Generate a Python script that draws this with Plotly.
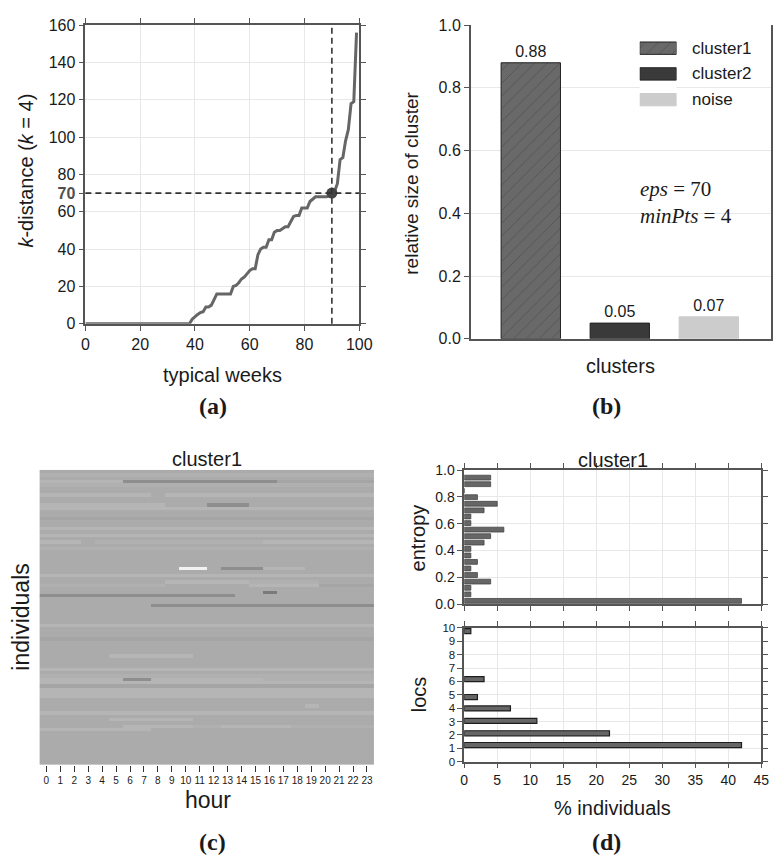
import plotly.graph_objects as go

W, H = 781, 858


def px(x):
    return x / W


def py(y):
    return 1 - y / H


FONT = "Liberation Sans, Arial, sans-serif"
SERIF = "Liberation Serif, Times New Roman, serif"
INK = "#1a1a1a"
SPINE = "#555555"
GRID = "#e8e8e8"

# ---------------- (a) k-distance plot ----------------
weeks = list(range(100))
kdist = [0, 0, 0, 0, 0, 0, 0, 0, 0, 0,
         0, 0, 0, 0, 0, 0, 0, 0, 0, 0,
         0, 0, 0, 0, 0, 0, 0, 0, 0, 0,
         0, 0, 0, 0, 0, 0, 0, 0, 0, 2.5,
         4, 5, 6, 6.5, 9, 9, 10, 13, 16, 16,
         16, 16, 16, 16, 20, 20.5, 22, 24, 25, 27,
         28.5, 29.5, 29.5, 37, 40, 41, 41, 45, 45, 49,
         50, 50, 51, 52, 52, 55, 57.5, 58, 58, 62,
         62, 62, 65.5, 67, 68, 68, 68, 68, 68, 68.5,
         70, 71, 75, 88, 89, 98, 104, 118, 119, 156]
knee_week = 90
eps = 70
min_pts = 4
kdist_ticks = [0, 20, 40, 60, 70, 80, 100, 120, 140, 160]
week_ticks = [0, 20, 40, 60, 80, 100]

# ---------------- (b) cluster sizes ----------------
cluster_names = ["cluster1", "cluster2", "noise"]
cluster_sizes = [0.88, 0.05, 0.07]
cluster_colors = ["#696969", "#3a3a3a", "#cccccc"]
cluster_edges = ["#222222", "#222222", "#cccccc"]

# ---------------- (c) heatmap of cluster1 ----------------
hours = list(range(24))
gray_levels = {"a": 171, "l": 176, "b": 181, "c": 165, "d": 142, "e": 122, "w": 242}
rows = [
    "aaaaaaaaaaaaaaaaaaaaaaaa",
    "llllllllllllllllllllllll",
    "aaaaaaaaaaaaaaaaaaaaaaaa",
    "bbbbbbdddddddddddccccccc",
    "llllllllllllllllllllllll",
    "aaaaaaaaaaaaaaaaaaaaaaaa",
    "aaaaaaaaaaaaaaaaaaaaaaaa",
    "bbbbbbbbabbbbbbbbbbbbbbb",
    "aaaaaaaaaaaaaaaaaaaaaaaa",
    "aaaaaaaaaaaaaaaaaaaaaaaa",
    "bbbbbbbbbaaadddaaaaaaaaa",
    "bbbbbbbbbbbbbbbbbbbbbbbb",
    "aaaaaaaaaaaaaaaaaaaaaaaa",
    "aaaaaaaaaaaaaaaaaaaaaaaa",
    "cccccccccccccccccccccccc",
    "aaaaaaaaaaaaaaaaaaaaaaaa",
    "aaaaaaaaaaaaaaaaaaaaaaaa",
    "bbbbbbbbbbbbbbbbbbbbbbbb",
    "aaaaaaaaaaaaaaaaaaaaaaaa",
    "bbbbbbbbbbbbbbbbbbbbbbbb",
    "aaaaaaaaaaaaaaaaaaaaaaaa",
    "bbba" "llllllllllll" "bbbbbbbb",
    "aaaaaaaaaaaaaaaaaaaaaaaa",
    "llllllllllllllllllllllll",
    "aaaaaaaaaaaaaaaaaaaaaaaa",
    "aaaaaaaaaaaaaaaaaaaaaaaa",
    "aaaaaaaaaaaaaaaaaaaaaaaa",
    "aaaaaaaaaaaaaaaaaaaaaaaa",
    "aaaaaaaaaaaaaaaaaaaaaaaa",
    "aaaaaaaaaawwadddbbbaaaaa",
    "aaaaaaaaaaaaaaaaaaaaaaaa",
    "bbbbbbbbbbbbbbbbbbbbbbbb",
    "aaaaaaaaaaaaaaaaaaaaaaaa",
    "aaaaaaaaabbbbbblllllaaaa",
    "lllllllllaaaaaabbbbbcccc",
    "aaaaaaaaaaaaaaaaaaaaaaaa",
    "aaaaaaaaaaaaaaaaeaaaaaaa",
    "ddddddddddddddaaaaaaaaaa",
    "aaaaaaaaaaaaaaaaaaaaaaaa",
    "aaaaaaaaaaaaaaaaaaaaaaaa",
    "aaaaaaaadddddddddddddddd",
    "aaaaaaaaaaaaaaaaaaaaaaaa",
    "aaaaaaaaaaaaaaaaaaaaaaaa",
    "aaaaaaaaaaaaaaaaaaaaaaaa",
    "aaaaaaaaaaaaaaaaaaaaaaaa",
    "aaaaaaaaaaaaaaaaaaaaaaaa",
    "bbbbbbbbbbbbbbbbbbbbbbbb",
    "aaaaaaaaaaaaaaaaaaaaaaaa",
    "aaaaaaaaaaaaaaaaaaaaaaaa",
    "aaaaaaaaaaaaaaaaaaaaaaaa",
    "cccccccccccccccccccccccc",
    "aaaaaaaaaaaaaaaaaaaaaaaa",
    "aaaaaaaaaaaaaaaaaaaaaaaa",
    "aaaaaaaaaaaaaaaaaaaaaaaa",
    "aaaaaaaaaaaaaaaaaaaaaaaa",
    "aaaaabbbbbbaaaaaaaaaaaaa",
    "aaaaaaaaaaaaaaaaaaaaaaaa",
    "aaaaaaaaaaaaaaaaaaaaaaaa",
    "aaaaaaaaaaaaaaaaaaaaaaaa",
    "bbbbbbbbbbbbbbbbbbbbbbbb",
    "aaaaaaaaaaaaaaaaaaaaaaaa",
    "llllllllllllllllllllllll",
    "bbbbbbddbbbbbbbbllllllll",
    "bbbbbbbbbbbbbbbbbbbbbbbb",
    "cccccccccccccccccccccccc",
    "bbbbbbbbbbbbbbbbbbbbbbbb",
    "bbbbbbbbbbbbbbbbbbbbbbbb",
    "bbbbbbbbbbbbbbbbbbbbbbbb",
    "aaaaaaaaaaaaaaaaaaaaaaaa",
    "aaaaaaaaaaaaaaaaaaaaaaaa",
    "aaaaaaaaaaaaaaaaaaabaaaa",
    "aaaaaaaaaaaaaaaaaaaaaaaa",
    "bbbbbbbbbbbbbbbbbbbbbbbb",
    "aaaaaaaaaaaaaaaaaaaaaaaa",
    "aaaaabbbbbbaaaaaaaaaaaaa",
    "aaaaaaaaaaaaaaaaaaaaaaaa",
    "aaaaaabbbbbllbbbbbllllll",
    "bbbbbbbbaaaaaaaaaaaaaaaa",
    "aaaaaaaaaaaaaaaaaaaaaaaa",
    "aaaaaaaaaaaaaaaaaaaaaaaa",
    "aaaaaaaaaaaaaaaaaaaaaaaa",
    "aaaaaaaaaaaaaaaaaaaaaaaa",
    "aaaaaaaaaaaaaaaaaaaaaaaa",
    "aaaaaaaaaaaaaaaaaaaaaaaa",
    "aaaaaaaaaaaaaaaaaaaaaaaa",
    "aaaaaaaaaaaaaaaaaaaaaaaa",
    "aaaaaaaaaaaaaaaaaaaaaaaa",
    "aaaaaaaaaaaaaaaaaaaaaaaa",
]
heat_z = [[gray_levels[ch] for ch in r] for r in rows]

# ---------------- (d) entropy / locs histograms ----------------
entropy_bins = [0.024, 0.073, 0.122, 0.168, 0.217, 0.266, 0.315, 0.363, 0.412, 0.459,
                0.507, 0.556, 0.605, 0.654, 0.700, 0.749, 0.798, 0.846, 0.895, 0.944]
entropy_pct = [42, 1, 1, 4, 2, 1, 2, 1, 1, 3, 4, 6, 1, 1, 3, 5, 2, 0, 4, 4]
locs_bins = [1.24, 2.12, 3.05, 3.98, 4.83, 6.17, 9.76]
locs_pct = [42, 22, 11, 7, 2, 3, 1]
pct_ticks = [0, 5, 10, 15, 20, 25, 30, 35, 40, 45]

fig = go.Figure()

# (a)
fig.add_trace(go.Scatter(x=weeks, y=kdist, mode="lines",
                         line=dict(color="#666666", width=3),
                         xaxis="x", yaxis="y", showlegend=False))
fig.add_trace(go.Scatter(x=[knee_week], y=[eps], mode="markers",
                         marker=dict(color="#444444", size=11),
                         xaxis="x", yaxis="y", showlegend=False, cliponaxis=False))

# (b)
for name, val, col, edge in zip(cluster_names, cluster_sizes, cluster_colors, cluster_edges):
    marker = dict(color=col, line=dict(color=edge, width=1))
    if name == "cluster1":
        marker["pattern"] = dict(shape="/", fgcolor="#3c3c3c", size=9,
                                 solidity=0.1, fillmode="overlay")
    fig.add_trace(go.Bar(x=[name], y=[val], width=0.667, marker=marker,
                         text=[f"{val:.2f}"], textposition="outside",
                         textfont=dict(size=16, color=INK, family=FONT),
                         cliponaxis=False, xaxis="x2", yaxis="y2", showlegend=False))
    # legend swatch
    fig.add_trace(go.Bar(y=[name], x=[1], orientation="h", width=0.48, marker=marker,
                         xaxis="x6", yaxis="y6", showlegend=False, hoverinfo="skip"))

# (c)
fig.add_trace(go.Heatmap(z=heat_z, x=hours, colorscale=[[0, "#000000"], [1, "#ffffff"]],
                         zmin=0, zmax=255, showscale=False, xaxis="x3", yaxis="y3"))

# (d)
fig.add_trace(go.Bar(y=entropy_bins, x=entropy_pct, orientation="h", width=0.036,
                     marker=dict(color="#666666", line=dict(color="#444444", width=0.8)),
                     xaxis="x4", yaxis="y4", showlegend=False))
fig.add_trace(go.Bar(y=locs_bins, x=locs_pct, orientation="h", width=0.38,
                     marker=dict(color="#666666", line=dict(color="#1e1e1e", width=1.2)),
                     xaxis="x5", yaxis="y5", showlegend=False))

axis_common = dict(showline=True, linecolor=SPINE, linewidth=1.5, mirror="ticks",
                   ticks="outside", ticklen=5, tickwidth=1.3, tickcolor=SPINE,
                   gridcolor=GRID, zeroline=False, tickfont=dict(size=16, color=INK))
d_tick = {**axis_common, "tickfont": dict(size=14, color=INK)}
d_tick_small = {**axis_common, "tickfont": dict(size=11.5, color=INK)}

fig.update_layout(
    width=W, height=H, margin=dict(l=0, r=0, t=0, b=0),
    paper_bgcolor="white", plot_bgcolor="white",
    font=dict(family=FONT, color=INK),
    barmode="overlay",
    xaxis=dict(domain=[px(75), px(355)], range=[0, 100], tickvals=week_ticks,
               anchor="y", **axis_common),
    yaxis=dict(domain=[py(314), py(9.3)], range=[0, 160], tickvals=kdist_ticks,
               ticktext=[("<span style='color:#505050'><b>%d</b></span>" % v) if v == eps else str(v)
                         for v in kdist_ticks],
               anchor="x", **axis_common),
    xaxis2=dict(domain=[px(469), px(776)], range=[-0.674, 2.7], type="category",
                categoryorder="array", categoryarray=cluster_names,
                showticklabels=False, ticks="", showline=True, linecolor=SPINE,
                linewidth=1.5, showgrid=False, zeroline=False, anchor="y2"),
    yaxis2=dict(domain=[py(329.3), py(9.3)], range=[0, 1], dtick=0.2, tickformat=".1f",
                anchor="x2", **axis_common),
    xaxis3=dict(domain=[px(28), px(370)], range=[-0.5, 23.5], tickvals=hours,
                ticks="outside", ticklen=6, tickcolor="#333333", tickwidth=1.2,
                tickfont=dict(size=10, color=INK), showline=False, showgrid=False,
                zeroline=False, anchor="y3"),
    yaxis3=dict(domain=[py(764), py(463)], range=[len(rows) - 0.5, -0.5],
                showticklabels=False, ticks="", showline=False, showgrid=False,
                zeroline=False, anchor="x3"),
    xaxis4=dict(domain=[px(462.3), px(766)], range=[0, 45], tickvals=pct_ticks,
                showticklabels=False, anchor="y4", **axis_common),
    yaxis4=dict(domain=[py(600), py(463.3)], range=[0, 1], dtick=0.2, tickformat=".1f",
                anchor="x4", **d_tick),
    xaxis5=dict(domain=[px(462.3), px(766)], range=[0, 45], tickvals=pct_ticks,
                anchor="y5", **d_tick),
    yaxis5=dict(domain=[py(760.7), py(624.3)], range=[0, 10], dtick=1,
                anchor="x5", **d_tick_small),
    xaxis6=dict(domain=[px(641.7), px(679.3)], range=[0, 1], visible=False, anchor="y6"),
    yaxis6=dict(domain=[py(98.5), py(19.7)], type="category", categoryorder="array",
                categoryarray=cluster_names, range=[2.5, -0.5], visible=False, anchor="x6"),
    shapes=[
        dict(type="line", xref="x", yref="y domain", x0=knee_week, x1=knee_week, y0=0, y1=1,
             line=dict(color="#333333", width=1.6, dash="6px,4px")),
        dict(type="line", xref="x domain", yref="y", x0=0, x1=1, y0=eps, y1=eps,
             line=dict(color="#333333", width=1.6, dash="6px,4px")),
    ],
)

ann = []


def text(x, y, s, size, rot=0, family=FONT, xanchor="center", yanchor="middle", align="center"):
    ann.append(dict(x=px(x), y=py(y), xref="paper", yref="paper", text=s, showarrow=False,
                    font=dict(size=size, family=family, color=INK), textangle=rot,
                    xanchor=xanchor, yanchor=yanchor, align=align))


# (a) labels
text(14, 158, "<i>k</i>-distance (<i>k</i> = 4)", 20, rot=-90)
text(215, 366, "typical weeks", 20)
text(205, 398, "<b>(a)</b>", 24, family=SERIF)
# (b) labels
text(408, 171, "relative size of cluster", 19, rot=-90)
text(622, 357, "clusters", 20)
text(640, 190, "<i>eps</i> = %d<br><i>minPts</i> = %d" % (eps, min_pts), 21,
     family=SERIF, xanchor="left", align="left")
text(608, 398, "<b>(b)</b>", 24, family=SERIF)
for name in cluster_names:
    ann.append(dict(x=px(693), y=name, xref="paper", yref="y6", text=name, showarrow=False,
                    font=dict(size=17, family=FONT, color=INK), xanchor="left", yanchor="middle"))
# (c) labels
text(199, 452, "cluster1", 20)
text(9, 613, "individuals", 23, rot=-90)
text(200, 800, "hour", 23)
text(205, 843, "<b>(c)</b>", 24, family=SERIF)
# (d) labels
text(614, 453, "cluster1", 20)
text(416, 532, "entropy", 20, rot=-90)
text(416, 692, "locs", 20, rot=-90)
text(614, 808, "% individuals", 20)
text(608, 843, "<b>(d)</b>", 24, family=SERIF)

fig.update_layout(annotations=ann)

fig.write_html("out.html")
